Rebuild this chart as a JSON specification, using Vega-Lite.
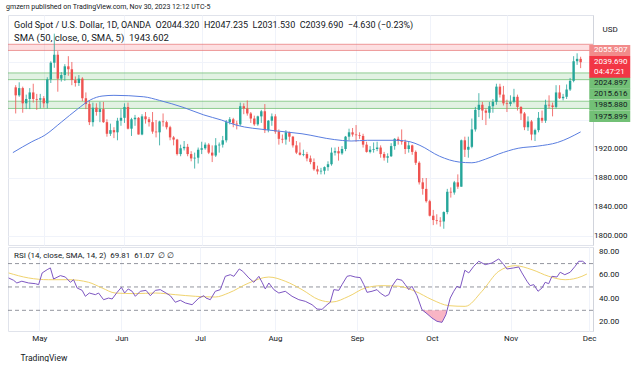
{
"$schema":"https://vega.github.io/schema/vega-lite/v6.json",
"padding":{"left":6,"top":2,"right":0,"bottom":0},
"background":"white",
"config":{"font":"Roboto","view":{"stroke":"#e0e3eb"}},
"title":{"text":"gmzern published on TradingView.com, Nov 30, 2023 12:12 UTC-5","anchor":"start","fontSize":7,"fontWeight":"normal","color":"#131722","offset":5},
"spacing":0,
"datasets":{
"candles":[
{"i":-8,"o":2005,"h":2008,"l":1969,"c":1994},{"i":-7,"o":1994,"h":2012,"l":1992,"c":2004},{"i":-6,"o":2004,"h":2006,"l":1970,"c":1983},{"i":-5,"o":1983,"h":1995,"l":1975,"c":1989},{"i":-4,"o":1989,"h":2004,"l":1975,"c":1998},{"i":-3,"o":1998,"h":2010,"l":1984,"c":1989},{"i":-2,"o":1989,"h":1996,"l":1974,"c":1988},{"i":-1,"o":1988,"h":1996,"l":1976,"c":1990},
{"i":0,"o":1990,"h":1993,"l":1977,"c":1983},{"i":1,"o":1983,"h":2019,"l":1976,"c":2016},{"i":2,"o":2016,"h":2041,"l":2011,"c":2039},{"i":3,"o":2039,"h":2079,"l":2032,"c":2050},{"i":4,"o":2050,"h":2055,"l":1999,"c":2017},{"i":5,"o":2017,"h":2026,"l":2013,"c":2022},{"i":6,"o":2022,"h":2037,"l":2014,"c":2034},{"i":7,"o":2034,"h":2048,"l":2021,"c":2030},{"i":8,"o":2030,"h":2040,"l":2008,"c":2015},{"i":9,"o":2015,"h":2020,"l":2006,"c":2011},{"i":10,"o":2011,"h":2022,"l":2007,"c":2017},{"i":11,"o":2017,"h":2019,"l":1986,"c":1990},{"i":12,"o":1990,"h":1998,"l":1975,"c":1982},{"i":13,"o":1982,"h":1986,"l":1953,"c":1957},{"i":14,"o":1957,"h":1984,"l":1951,"c":1977},{"i":15,"o":1977,"h":1983,"l":1966,"c":1971},{"i":16,"o":1971,"h":1985,"l":1957,"c":1975},{"i":17,"o":1975,"h":1985,"l":1956,"c":1957},{"i":18,"o":1957,"h":1961,"l":1937,"c":1941},{"i":19,"o":1941,"h":1955,"l":1938,"c":1946},{"i":20,"o":1946,"h":1950,"l":1935,"c":1943},{"i":21,"o":1943,"h":1963,"l":1932,"c":1959},{"i":22,"o":1959,"h":1975,"l":1952,"c":1963},
{"i":23,"o":1963,"h":1983,"l":1956,"c":1978},{"i":24,"o":1978,"h":1984,"l":1947,"c":1948},{"i":25,"o":1948,"h":1963,"l":1938,"c":1961},{"i":26,"o":1961,"h":1967,"l":1952,"c":1963},{"i":27,"o":1963,"h":1964,"l":1940,"c":1940},{"i":28,"o":1940,"h":1968,"l":1939,"c":1965},{"i":29,"o":1965,"h":1971,"l":1955,"c":1961},{"i":30,"o":1961,"h":1964,"l":1951,"c":1957},{"i":31,"o":1957,"h":1971,"l":1941,"c":1944},{"i":32,"o":1944,"h":1960,"l":1936,"c":1943},{"i":33,"o":1943,"h":1959,"l":1925,"c":1958},{"i":34,"o":1958,"h":1969,"l":1951,"c":1957},{"i":35,"o":1957,"h":1959,"l":1947,"c":1950},{"i":36,"o":1950,"h":1952,"l":1932,"c":1936},{"i":37,"o":1936,"h":1938,"l":1925,"c":1933},{"i":38,"o":1933,"h":1934,"l":1911,"c":1913},{"i":39,"o":1913,"h":1926,"l":1910,"c":1921},{"i":40,"o":1921,"h":1931,"l":1918,"c":1923},{"i":41,"o":1923,"h":1927,"l":1910,"c":1913},{"i":42,"o":1913,"h":1917,"l":1903,"c":1907},{"i":43,"o":1907,"h":1915,"l":1893,"c":1908},{"i":44,"o":1908,"h":1922,"l":1900,"c":1919},
{"i":45,"o":1919,"h":1930,"l":1913,"c":1921},{"i":46,"o":1921,"h":1929,"l":1919,"c":1926},{"i":47,"o":1926,"h":1928,"l":1913,"c":1915},{"i":48,"o":1915,"h":1925,"l":1902,"c":1911},{"i":49,"o":1911,"h":1935,"l":1909,"c":1925},{"i":50,"o":1925,"h":1929,"l":1915,"c":1926},{"i":51,"o":1926,"h":1938,"l":1922,"c":1932},{"i":52,"o":1932,"h":1960,"l":1929,"c":1957},{"i":53,"o":1957,"h":1964,"l":1954,"c":1961},{"i":54,"o":1961,"h":1963,"l":1950,"c":1955},{"i":55,"o":1955,"h":1959,"l":1947,"c":1954},{"i":56,"o":1954,"h":1984,"l":1952,"c":1979},{"i":57,"o":1979,"h":1983,"l":1968,"c":1976},{"i":58,"o":1976,"h":1987,"l":1966,"c":1969},{"i":59,"o":1969,"h":1971,"l":1956,"c":1962},{"i":60,"o":1962,"h":1966,"l":1952,"c":1954},{"i":61,"o":1954,"h":1966,"l":1952,"c":1965},{"i":62,"o":1965,"h":1974,"l":1956,"c":1972},{"i":63,"o":1972,"h":1982,"l":1942,"c":1946},{"i":64,"o":1946,"h":1960,"l":1943,"c":1959},{"i":65,"o":1959,"h":1969,"l":1952,"c":1965},
{"i":66,"o":1965,"h":1968,"l":1941,"c":1944},{"i":67,"o":1944,"h":1947,"l":1926,"c":1934},{"i":68,"o":1934,"h":1940,"l":1928,"c":1933},{"i":69,"o":1933,"h":1946,"l":1926,"c":1943},{"i":70,"o":1943,"h":1944,"l":1930,"c":1937},{"i":71,"o":1937,"h":1938,"l":1922,"c":1925},{"i":72,"o":1925,"h":1931,"l":1913,"c":1915},{"i":73,"o":1915,"h":1929,"l":1911,"c":1912},{"i":74,"o":1912,"h":1919,"l":1910,"c":1913},{"i":75,"o":1913,"h":1916,"l":1903,"c":1907},{"i":76,"o":1907,"h":1911,"l":1899,"c":1902},{"i":77,"o":1902,"h":1907,"l":1890,"c":1892},{"i":78,"o":1892,"h":1897,"l":1885,"c":1889},{"i":79,"o":1889,"h":1894,"l":1885,"c":1890},{"i":80,"o":1890,"h":1896,"l":1885,"c":1895},{"i":81,"o":1895,"h":1903,"l":1890,"c":1899},{"i":82,"o":1899,"h":1922,"l":1897,"c":1915},{"i":83,"o":1915,"h":1922,"l":1911,"c":1917},{"i":84,"o":1917,"h":1923,"l":1904,"c":1914},{"i":85,"o":1914,"h":1924,"l":1912,"c":1920},{"i":86,"o":1920,"h":1938,"l":1917,"c":1937},{"i":87,"o":1937,"h":1948,"l":1932,"c":1943},{"i":88,"o":1943,"h":1949,"l":1937,"c":1940},
{"i":89,"o":1940,"h":1953,"l":1930,"c":1939},{"i":90,"o":1939,"h":1943,"l":1934,"c":1938},{"i":91,"o":1938,"h":1941,"l":1922,"c":1926},{"i":92,"o":1926,"h":1930,"l":1915,"c":1916},{"i":93,"o":1916,"h":1924,"l":1914,"c":1919},{"i":94,"o":1919,"h":1929,"l":1915,"c":1920},{"i":95,"o":1920,"h":1930,"l":1917,"c":1922},{"i":96,"o":1922,"h":1925,"l":1908,"c":1913},{"i":97,"o":1913,"h":1916,"l":1904,"c":1908},{"i":98,"o":1908,"h":1914,"l":1901,"c":1910},{"i":99,"o":1910,"h":1928,"l":1909,"c":1924},{"i":100,"o":1924,"h":1935,"l":1919,"c":1934},{"i":101,"o":1934,"h":1937,"l":1926,"c":1931},{"i":102,"o":1931,"h":1947,"l":1926,"c":1930},{"i":103,"o":1930,"h":1933,"l":1913,"c":1920},{"i":104,"o":1920,"h":1930,"l":1915,"c":1925},{"i":105,"o":1925,"h":1926,"l":1912,"c":1916},{"i":106,"o":1916,"h":1918,"l":1898,"c":1901},{"i":107,"o":1901,"h":1903,"l":1871,"c":1874},{"i":108,"o":1874,"h":1880,"l":1857,"c":1865},{"i":109,"o":1865,"h":1880,"l":1846,"c":1848},
{"i":110,"o":1848,"h":1850,"l":1827,"c":1828},{"i":111,"o":1828,"h":1836,"l":1815,"c":1822},{"i":112,"o":1822,"h":1830,"l":1816,"c":1821},{"i":113,"o":1821,"h":1826,"l":1813,"c":1820},{"i":114,"o":1820,"h":1834,"l":1810,"c":1833},{"i":115,"o":1833,"h":1865,"l":1830,"c":1861},{"i":116,"o":1861,"h":1867,"l":1853,"c":1860},{"i":117,"o":1860,"h":1876,"l":1857,"c":1874},{"i":118,"o":1874,"h":1885,"l":1865,"c":1868},{"i":119,"o":1868,"h":1933,"l":1868,"c":1932},{"i":120,"o":1932,"h":1937,"l":1909,"c":1919},{"i":121,"o":1919,"h":1937,"l":1908,"c":1923},{"i":122,"o":1923,"h":1962,"l":1921,"c":1947},{"i":123,"o":1947,"h":1978,"l":1944,"c":1974},{"i":124,"o":1974,"h":1997,"l":1964,"c":1981},{"i":125,"o":1981,"h":1985,"l":1960,"c":1973},{"i":126,"o":1973,"h":1976,"l":1953,"c":1970},{"i":127,"o":1970,"h":1985,"l":1962,"c":1979},{"i":128,"o":1979,"h":1989,"l":1970,"c":1985},{"i":129,"o":1985,"h":2010,"l":1981,"c":2006},{"i":130,"o":2006,"h":2010,"l":1991,"c":1995},{"i":131,"o":1995,"h":2007,"l":1980,"c":1983},
{"i":132,"o":1983,"h":1988,"l":1971,"c":1982},{"i":133,"o":1982,"h":1994,"l":1979,"c":1985},{"i":134,"o":1985,"h":2003,"l":1983,"c":1992},{"i":135,"o":1992,"h":1995,"l":1973,"c":1978},{"i":136,"o":1978,"h":1979,"l":1960,"c":1969},{"i":137,"o":1969,"h":1971,"l":1946,"c":1950},{"i":138,"o":1950,"h":1965,"l":1945,"c":1958},{"i":139,"o":1958,"h":1960,"l":1932,"c":1940},{"i":140,"o":1940,"h":1948,"l":1931,"c":1946},{"i":141,"o":1946,"h":1971,"l":1943,"c":1963},{"i":142,"o":1963,"h":1973,"l":1956,"c":1959},{"i":143,"o":1959,"h":1988,"l":1956,"c":1981},{"i":144,"o":1981,"h":1994,"l":1976,"c":1980},{"i":145,"o":1980,"h":1984,"l":1965,"c":1978},{"i":146,"o":1978,"h":2008,"l":1976,"c":1998},{"i":147,"o":1998,"h":2008,"l":1989,"c":1990},{"i":148,"o":1990,"h":1996,"l":1987,"c":1992},{"i":149,"o":1992,"h":2009,"l":1989,"c":2002},{"i":150,"o":2002,"h":2018,"l":2000,"c":2014},{"i":151,"o":2014,"h":2048,"l":2012,"c":2041},{"i":152,"o":2041,"h":2052,"l":2036,"c":2044.32},{"i":153,"o":2044.32,"h":2047.235,"l":2031.53,"c":2039.69}
],
"sma":[
{"i":-8.8,"v":1915},{"i":-3.4,"v":1930},{"i":0.3,"v":1939},{"i":5,"v":1957},{"i":9.6,"v":1975},{"i":13.4,"v":1988},{"i":16.6,"v":1993},{"i":20,"v":1994},{"i":28.5,"v":1992},{"i":33,"v":1987},{"i":40,"v":1977},{"i":45.6,"v":1967},{"i":50.6,"v":1960},{"i":54.8,"v":1953},{"i":64.3,"v":1946},{"i":73.6,"v":1941},{"i":82.8,"v":1933},{"i":87.6,"v":1931},{"i":92.3,"v":1932},{"i":100.7,"v":1932},{"i":104.4,"v":1930},{"i":107.2,"v":1925},{"i":112.8,"v":1910},{"i":118.4,"v":1902},{"i":122,"v":1901},{"i":125.9,"v":1906},{"i":129.6,"v":1913},{"i":135.2,"v":1921},{"i":140.8,"v":1924},{"i":146.4,"v":1929},{"i":153,"v":1943.6}
],
"zones":[{"lo":2055.907,"hi":2064.4,"k":"r"},{"lo":2015.616,"hi":2024.897,"k":"g"},{"lo":1975.899,"hi":1985.88,"k":"g"}],
"levels":[{"p":2064.4,"k":"r"},{"p":2055.907,"k":"r"},{"p":2024.897,"k":"g"},{"p":2015.616,"k":"g"},{"p":1985.88,"k":"g"},{"p":1975.899,"k":"g"}],
"labels":[{"v":"2055.907","p":2055.907},{"v":"2039.690","p":2039.69,"t":"04:47:21"},{"v":"2024.897","p":2024.897},{"v":"2015.616","p":2015.616},{"v":"1985.880","p":1985.88},{"v":"1975.899","p":1975.899}],
"pticks":[{"p":1800},{"p":1840},{"p":1880},{"p":1920}],
"rticks":[{"r":20},{"r":40},{"r":60},{"r":80}],
"rsi":[
{"i":-8.6,"r":57.7},{"i":-7.2,"r":55.7},{"i":-6.3,"r":53.4},{"i":-4.9,"r":54.9},{"i":-3,"r":53.4},{"i":-1.1,"r":52.8},{"i":-0.2,"r":52},{"i":0.8,"r":62},{"i":2.2,"r":64.8},{"i":3.1,"r":66.3},{"i":4,"r":56.8},{"i":5.9,"r":59.7},{"i":7.3,"r":58.5},{"i":8.7,"r":54},{"i":9.6,"r":56.2},{"i":10.6,"r":49.1},{"i":12,"r":47.1},{"i":12.9,"r":42},{"i":14,"r":44.8},{"i":15.7,"r":43.4},{"i":16.6,"r":44.8},{"i":18,"r":39.1},{"i":19.4,"r":40.5},{"i":20.4,"r":39.7},{"i":21.8,"r":45.4},{"i":23,"r":49.7},{"i":23.9,"r":44.8},{"i":24.9,"r":48.3},{"i":26,"r":46.3},{"i":26.9,"r":42},{"i":28.3,"r":46.3},{"i":29.9,"r":47.1},{"i":31.1,"r":42.5},{"i":32.5,"r":47.1},{"i":33.9,"r":47.7},{"i":35.5,"r":44.8},{"i":36.7,"r":42.5},{"i":38.1,"r":36.9},{"i":39.5,"r":38.6},{"i":40.9,"r":36.3},{"i":42.8,"r":34.8},{"i":44.7,"r":40.5},{"i":46.1,"r":42.5},{"i":46.7,"r":40.5},{"i":47.9,"r":39.1},{"i":49.3,"r":46.3},{"i":50.7,"r":47.7},{"i":52.1,"r":59.1},{"i":53.5,"r":60.5},{"i":54.5,"r":59.1},{"i":56,"r":65.4},{"i":57,"r":63.4},{"i":58.7,"r":57.7},{"i":60.1,"r":54},{"i":61.5,"r":59.1},{"i":62.4,"r":54},{"i":63.3,"r":48.3},{"i":64.3,"r":53.4},{"i":65.7,"r":47.7},{"i":67.1,"r":44.8},{"i":68.9,"r":46.3},{"i":70.8,"r":42},{"i":72.7,"r":39.1},{"i":74.5,"r":37.7},{"i":76.4,"r":34.8},{"i":77.8,"r":31.1},{"i":79.2,"r":30.8},{"i":80.6,"r":34.8},{"i":81.5,"r":36.9},{"i":82.5,"r":47.7},{"i":83.9,"r":47.1},{"i":84.8,"r":52},{"i":86.2,"r":59.1},{"i":87.1,"r":59.7},{"i":88.5,"r":58.5},{"i":89.9,"r":58},{"i":90.9,"r":52},{"i":91.8,"r":45.4},{"i":93.2,"r":46.3},{"i":94.6,"r":47.7},{"i":95.5,"r":44.8},{"i":96.9,"r":42},{"i":97.9,"r":43.4},{"i":98.8,"r":50.6},{"i":100.2,"r":56.8},{"i":101.6,"r":55.7},{"i":102.5,"r":52},{"i":103.5,"r":47.7},{"i":104.4,"r":50.6},{"i":105.8,"r":42.5},{"i":107.2,"r":30.5},{"i":108.6,"r":27.1},{"i":110,"r":23.4},{"i":111.4,"r":20.6},{"i":112.8,"r":19.7},{"i":113.9,"r":26.2},{"i":115.1,"r":40.5},{"i":116.1,"r":46.3},{"i":117,"r":50.6},{"i":117.9,"r":49.1},{"i":119.2,"r":64.3},{"i":120.3,"r":62},{"i":121.7,"r":67.7},{"i":123.1,"r":72},{"i":124.9,"r":69.1},{"i":126.8,"r":70.5},{"i":128.7,"r":74},{"i":130.1,"r":69.1},{"i":131,"r":65.4},{"i":132.9,"r":66.3},{"i":134.3,"r":67.1},{"i":135.2,"r":62},{"i":136.6,"r":54.9},{"i":137.5,"r":51.1},{"i":138.5,"r":52},{"i":139.7,"r":46.3},{"i":140.8,"r":49.1},{"i":141.7,"r":54},{"i":142.7,"r":52.8},{"i":143.6,"r":59.1},{"i":145,"r":58.5},{"i":145.9,"r":62.6},{"i":147.2,"r":60.5},{"i":148.7,"r":62.6},{"i":150.1,"r":67.7},{"i":151.1,"r":72},{"i":152.2,"r":72},{"i":153.1,"r":69.8}
],
"rsima":[
{"i":-8.6,"r":62},{"i":-3,"r":57.7},{"i":2.6,"r":56.2},{"i":8.2,"r":56.2},{"i":13.8,"r":54},{"i":17.6,"r":49.1},{"i":21.3,"r":44.8},{"i":26.9,"r":44.3},{"i":32.5,"r":44.8},{"i":38.1,"r":43.4},{"i":43.7,"r":42},{"i":49.3,"r":41.4},{"i":53,"r":44.8},{"i":58.7,"r":53.4},{"i":64.3,"r":58.5},{"i":68.9,"r":54.9},{"i":73.6,"r":47.7},{"i":78.3,"r":39.1},{"i":82,"r":37.1},{"i":86.7,"r":42},{"i":91.3,"r":49.1},{"i":96,"r":51.1},{"i":100.7,"r":50.6},{"i":105.3,"r":46.3},{"i":110,"r":39.1},{"i":114.7,"r":34},{"i":119.3,"r":33.4},{"i":124,"r":46.3},{"i":128.7,"r":63.4},{"i":133.3,"r":68.2},{"i":138,"r":64.8},{"i":142.7,"r":59.1},{"i":147.3,"r":56.2},{"i":152,"r":59.1},{"i":153.4,"r":61.1}
],
"os":[{"i":107.3,"r":30},{"i":108.6,"r":27.1},{"i":110,"r":23.4},{"i":111.4,"r":20.6},{"i":112.8,"r":19.7},{"i":113.9,"r":26.2},{"i":114.2,"r":30}]
},
"vconcat":[
{
"width":585,"height":230,
"title":{"text":"Gold Spot / U.S. Dollar, 1D, OANDA \u00a0O2044.320 \u00a0H2047.235 \u00a0L2031.530 \u00a0C2039.690 \u00a0−4.630 (−0.23%)","subtitle":"SMA (50, close, 0, SMA, 5) \u00a01943.602","anchor":"start","frame":"group","dx":6,"offset":-27,"fontSize":9,"fontWeight":"normal","color":"#131722","subtitleFontSize":9.5,"subtitleColor":"#131722","subtitlePadding":3},
"layer":[
{"data":{"name":"zones"},"mark":{"type":"rect","opacity":0.16},
 "encoding":{"y":{"field":"lo","type":"quantitative","scale":{"domain":[1787.6,2104.8],"nice":false,"zero":false},"axis":{"orient":"right","values":[1800,1840,1880,1920,1960,2000,2040,2080],"labels":false,"ticks":false,"grid":true,"gridColor":"#f0f3fa","domainColor":"#d1d4dc","title":"USD","titleAngle":0,"titleX":9,"titleY":14,"titleAlign":"left","titleBaseline":"middle","titleFontSize":8,"titleFontWeight":"normal","titleColor":"#131722"}},
  "y2":{"field":"hi"},
  "color":{"condition":{"test":"datum.k=='r'","value":"#f23645"},"value":"#4caf50"}}},
{"data":{"name":"levels"},"mark":{"type":"rule","strokeWidth":1,"opacity":0.7},
 "encoding":{"y":{"field":"p","type":"quantitative","scale":{"domain":[1787.6,2104.8],"nice":false,"zero":false}},
  "color":{"condition":{"test":"datum.k=='r'","value":"#e57373"},"value":"#66bb6a"}}},
{"data":{"name":"candles"},"mark":{"type":"rule","strokeWidth":0.8},
 "encoding":{"x":{"field":"i","type":"quantitative","scale":{"domain":[-8.77,155.1],"nice":false,"zero":false},"axis":{"values":[0,23,45,66,89,110,132],"labels":false,"ticks":false,"domain":false,"grid":true,"gridColor":"#f0f3fa","title":null}},
  "y":{"field":"l","type":"quantitative","scale":{"domain":[1787.6,2104.8],"nice":false,"zero":false}},"y2":{"field":"h"},
  "color":{"condition":{"test":"datum.c>=datum.o","value":"#26a69a"},"value":"#ef5350"}}},
{"data":{"name":"candles"},"mark":{"type":"bar","width":2.4},
 "encoding":{"x":{"field":"i","type":"quantitative","scale":{"domain":[-8.77,155.1],"nice":false,"zero":false}},
  "y":{"field":"o","type":"quantitative","scale":{"domain":[1787.6,2104.8],"nice":false,"zero":false}},"y2":{"field":"c"},
  "color":{"condition":{"test":"datum.c>=datum.o","value":"#26a69a"},"value":"#ef5350"}}},
{"data":{"name":"sma"},"mark":{"type":"line","color":"#5a7ee0","strokeWidth":1,"interpolate":"monotone"},
 "encoding":{"x":{"field":"i","type":"quantitative","scale":{"domain":[-8.77,155.1],"nice":false,"zero":false}},
  "y":{"field":"v","type":"quantitative","scale":{"domain":[1787.6,2104.8],"nice":false,"zero":false}}}},
{"mark":{"type":"rule","color":"#f23645","strokeDash":[1,2],"strokeWidth":1},
 "encoding":{"y":{"datum":2039.69,"type":"quantitative","scale":{"domain":[1787.6,2104.8],"nice":false,"zero":false}}}},
{"data":{"name":"pticks"},"mark":{"type":"text","align":"left","baseline":"middle","fontSize":8,"color":"#131722"},
 "encoding":{"x":{"datum":156.8,"type":"quantitative","scale":{"domain":[-8.77,155.1],"nice":false,"zero":false}},"y":{"field":"p","type":"quantitative","scale":{"domain":[1787.6,2104.8],"nice":false,"zero":false}},"text":{"field":"p","type":"quantitative","format":".3f"}}},
{"data":{"name":"labels"},"transform":[{"filter":"datum.v=='2055.907'"}],"layer":[
 {"mark":{"type":"tick","orient":"horizontal","size":41,"thickness":11,"color":"#f28b8b","opacity":1},"encoding":{"x":{"datum":161.3,"type":"quantitative","scale":{"domain":[-8.77,155.1],"nice":false,"zero":false}},"y":{"field":"p","type":"quantitative","scale":{"domain":[1787.6,2104.8],"nice":false,"zero":false}}}},
 {"mark":{"type":"text","align":"left","baseline":"middle","fontSize":8,"color":"white"},"encoding":{"x":{"datum":156.8,"type":"quantitative","scale":{"domain":[-8.77,155.1],"nice":false,"zero":false}},"y":{"field":"p","type":"quantitative","scale":{"domain":[1787.6,2104.8],"nice":false,"zero":false}},"text":{"field":"v"}}}]},
{"data":{"name":"labels"},"transform":[{"filter":"datum.v=='2039.690'"}],"layer":[
 {"mark":{"type":"tick","orient":"horizontal","size":41,"thickness":22,"color":"#f23645","opacity":1,"yOffset":4.8},"encoding":{"x":{"datum":161.3,"type":"quantitative","scale":{"domain":[-8.77,155.1],"nice":false,"zero":false}},"y":{"field":"p","type":"quantitative","scale":{"domain":[1787.6,2104.8],"nice":false,"zero":false}}}},
 {"mark":{"type":"text","align":"left","baseline":"middle","fontSize":8,"color":"white"},"encoding":{"x":{"datum":156.8,"type":"quantitative","scale":{"domain":[-8.77,155.1],"nice":false,"zero":false}},"y":{"field":"p","type":"quantitative","scale":{"domain":[1787.6,2104.8],"nice":false,"zero":false}},"text":{"field":"v"}}},
 {"mark":{"type":"text","align":"left","baseline":"middle","fontSize":8,"color":"white","yOffset":10},"encoding":{"x":{"datum":156.8,"type":"quantitative","scale":{"domain":[-8.77,155.1],"nice":false,"zero":false}},"y":{"field":"p","type":"quantitative","scale":{"domain":[1787.6,2104.8],"nice":false,"zero":false}},"text":{"field":"t"}}}]},
{"data":{"name":"labels"},"transform":[{"filter":"datum.v=='2024.897'"}],"layer":[
 {"mark":{"type":"tick","orient":"horizontal","size":41,"thickness":11,"color":"#72c076","opacity":1,"yOffset":10.2},"encoding":{"x":{"datum":161.3,"type":"quantitative","scale":{"domain":[-8.77,155.1],"nice":false,"zero":false}},"y":{"field":"p","type":"quantitative","scale":{"domain":[1787.6,2104.8],"nice":false,"zero":false}}}},
 {"mark":{"type":"text","align":"left","baseline":"middle","fontSize":8,"color":"#131722","yOffset":10.2},"encoding":{"x":{"datum":156.8,"type":"quantitative","scale":{"domain":[-8.77,155.1],"nice":false,"zero":false}},"y":{"field":"p","type":"quantitative","scale":{"domain":[1787.6,2104.8],"nice":false,"zero":false}},"text":{"field":"v"}}}]},
{"data":{"name":"labels"},"transform":[{"filter":"datum.v=='2015.616'"}],"layer":[
 {"mark":{"type":"tick","orient":"horizontal","size":41,"thickness":11,"color":"#72c076","opacity":1,"yOffset":14.3},"encoding":{"x":{"datum":161.3,"type":"quantitative","scale":{"domain":[-8.77,155.1],"nice":false,"zero":false}},"y":{"field":"p","type":"quantitative","scale":{"domain":[1787.6,2104.8],"nice":false,"zero":false}}}},
 {"mark":{"type":"text","align":"left","baseline":"middle","fontSize":8,"color":"#131722","yOffset":14.3},"encoding":{"x":{"datum":156.8,"type":"quantitative","scale":{"domain":[-8.77,155.1],"nice":false,"zero":false}},"y":{"field":"p","type":"quantitative","scale":{"domain":[1787.6,2104.8],"nice":false,"zero":false}},"text":{"field":"v"}}}]},
{"data":{"name":"labels"},"transform":[{"filter":"datum.v=='1985.880'"}],"layer":[
 {"mark":{"type":"tick","orient":"horizontal","size":41,"thickness":11,"color":"#72c076","opacity":1,"yOffset":4.0},"encoding":{"x":{"datum":161.3,"type":"quantitative","scale":{"domain":[-8.77,155.1],"nice":false,"zero":false}},"y":{"field":"p","type":"quantitative","scale":{"domain":[1787.6,2104.8],"nice":false,"zero":false}}}},
 {"mark":{"type":"text","align":"left","baseline":"middle","fontSize":8,"color":"#131722","yOffset":4.0},"encoding":{"x":{"datum":156.8,"type":"quantitative","scale":{"domain":[-8.77,155.1],"nice":false,"zero":false}},"y":{"field":"p","type":"quantitative","scale":{"domain":[1787.6,2104.8],"nice":false,"zero":false}},"text":{"field":"v"}}}]},
{"data":{"name":"labels"},"transform":[{"filter":"datum.v=='1975.899'"}],"layer":[
 {"mark":{"type":"tick","orient":"horizontal","size":41,"thickness":11,"color":"#72c076","opacity":1,"yOffset":8.1},"encoding":{"x":{"datum":161.3,"type":"quantitative","scale":{"domain":[-8.77,155.1],"nice":false,"zero":false}},"y":{"field":"p","type":"quantitative","scale":{"domain":[1787.6,2104.8],"nice":false,"zero":false}}}},
 {"mark":{"type":"text","align":"left","baseline":"middle","fontSize":8,"color":"#131722","yOffset":8.1},"encoding":{"x":{"datum":156.8,"type":"quantitative","scale":{"domain":[-8.77,155.1],"nice":false,"zero":false}},"y":{"field":"p","type":"quantitative","scale":{"domain":[1787.6,2104.8],"nice":false,"zero":false}},"text":{"field":"v"}}}]}
]
},
{
"width":585,"height":84,
"title":{"text":"RSI (14, close, SMA, 14, 2) \u00a069.81 \u00a061.07 \u00a0∅ ∅","anchor":"start","frame":"group","dx":6,"offset":-13,"fontSize":8,"fontWeight":"normal","color":"#131722"},
"layer":[
{"mark":{"type":"rect","color":"#7e57c2","opacity":0.1},
 "encoding":{"y":{"datum":30,"type":"quantitative","scale":{"domain":[12.3,84.2],"nice":false,"zero":false},"axis":{"orient":"right","values":[20,40,60,80],"labels":false,"ticks":false,"grid":false,"domainColor":"#d1d4dc","title":null}},"y2":{"datum":70}}},
{"data":{"values":[{"r":70},{"r":50},{"r":30}]},"mark":{"type":"rule","color":"#787b86","strokeDash":[4,3],"strokeWidth":0.8},
 "encoding":{"y":{"field":"r","type":"quantitative","scale":{"domain":[12.3,84.2],"nice":false,"zero":false}}}},
{"data":{"name":"os"},"mark":{"type":"area","color":"#f7a3b7","opacity":0.8},
 "encoding":{"x":{"field":"i","type":"quantitative","scale":{"domain":[-8.77,155.1],"nice":false,"zero":false}},
  "y":{"field":"r","type":"quantitative","scale":{"domain":[12.3,84.2],"nice":false,"zero":false}},"y2":{"datum":30}}},
{"data":{"name":"rsima"},"mark":{"type":"line","color":"#f0d36e","strokeWidth":1,"interpolate":"monotone"},
 "encoding":{"x":{"field":"i","type":"quantitative","scale":{"domain":[-8.77,155.1],"nice":false,"zero":false},"axis":{"values":[0,23,45,66,89,110,132,154],"labelExpr":"['May','Jun','Jul','Aug','Sep','Oct','Nov','Dec'][indexof([0,23,45,66,89,110,132,154], datum.value)]","labelOverlap":false,"labelFlush":false,"grid":true,"gridColor":"#f0f3fa","ticks":false,"domain":false,"labelPadding":3,"labelFontSize":8,"labelColor":"#131722","title":"TradingView","titleX":12,"titleY":26,"titleAlign":"left","titleAnchor":"start","titleBaseline":"middle","titleFontSize":8.5,"titleFontWeight":"normal","titleColor":"#131722"}},
  "y":{"field":"r","type":"quantitative","scale":{"domain":[12.3,84.2],"nice":false,"zero":false}}}},
{"data":{"name":"rsi"},"mark":{"type":"line","color":"#7e57c2","strokeWidth":1},
 "encoding":{"x":{"field":"i","type":"quantitative","scale":{"domain":[-8.77,155.1],"nice":false,"zero":false}},
  "y":{"field":"r","type":"quantitative","scale":{"domain":[12.3,84.2],"nice":false,"zero":false}}}},
{"data":{"name":"rticks"},"mark":{"type":"text","align":"left","baseline":"middle","fontSize":8,"color":"#131722"},
 "encoding":{"x":{"datum":156.8,"type":"quantitative","scale":{"domain":[-8.77,155.1],"nice":false,"zero":false}},"y":{"field":"r","type":"quantitative","scale":{"domain":[12.3,84.2],"nice":false,"zero":false}},"text":{"field":"r","type":"quantitative","format":".2f"}}}
]
}
]
}
